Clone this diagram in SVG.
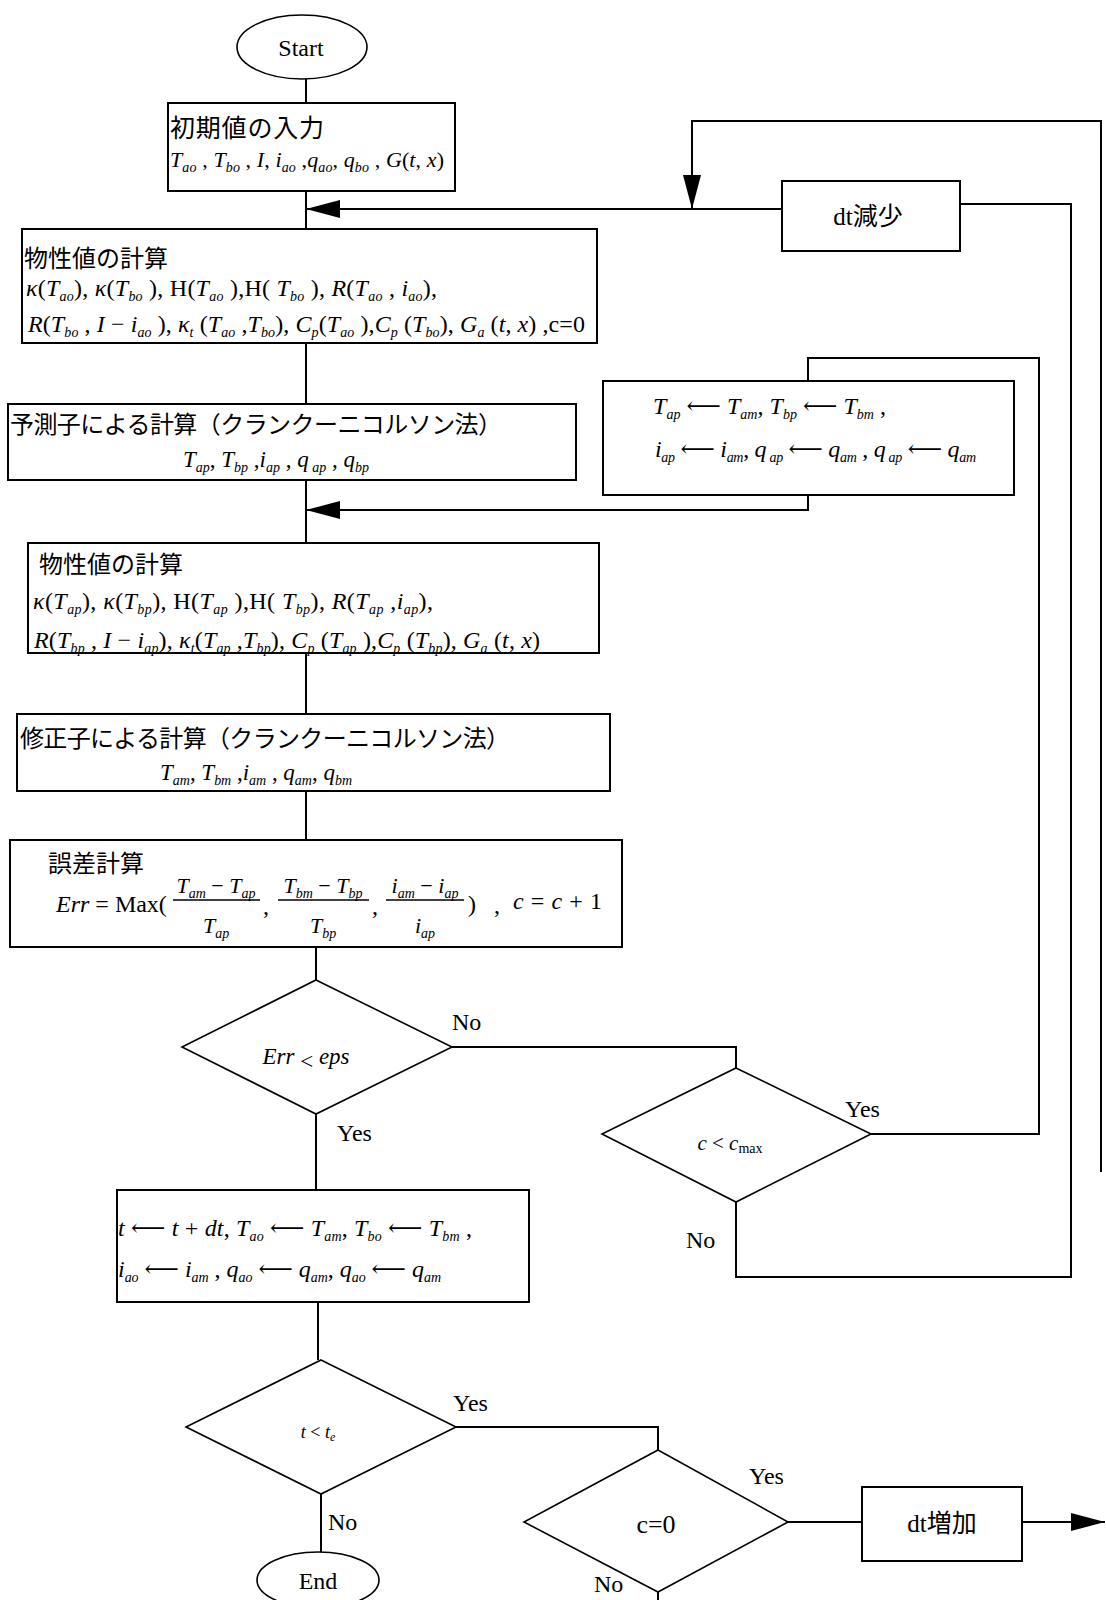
<svg xmlns="http://www.w3.org/2000/svg" width="1106" height="1600" viewBox="0 0 1106 1600">
<style>
.bg{fill:#fff}
.box{fill:#fff;stroke:#000;stroke-width:2}
.dia{fill:#fff;stroke:#000;stroke-width:1.6}
.ell{fill:#fff;stroke:#000;stroke-width:1.6}
.con{fill:none;stroke:#000;stroke-width:2}
.m{font-family:"Liberation Serif","DejaVu Serif",serif;font-size:24px;fill:#000}
.i{font-style:italic}
.s{font-size:14px;font-style:italic}
.su{font-size:14px}
.jp{font-family:"Noto Sans CJK JP","Noto Sans CJK SC",sans-serif;font-size:24px;fill:#000}
.lbl{font-family:"Liberation Serif","DejaVu Serif",serif;font-size:24px;fill:#000}
.mix{font-family:"Liberation Serif","Noto Sans CJK JP",serif;font-size:25px;fill:#000}
</style>
<defs>
<marker id="ah" markerUnits="userSpaceOnUse" markerWidth="34" markerHeight="18" refX="34" refY="9" orient="auto">
<path d="M0,0 L34,9 L0,18 z" fill="#000"/>
</marker>
</defs>
<rect class="bg" x="0" y="0" width="1106" height="1600"/>

<g id="connectors">
<path class="con" d="M306,79 V103"/>
<path class="con" d="M306,191 V229"/>
<path class="con" d="M782,209 H306" marker-end="url(#ah)"/>
<path class="con" d="M1101,1172 V121 H692 V209" marker-end="url(#ah)"/>
<path class="con" d="M306,343 V404"/>
<path class="con" d="M306,480 V543"/>
<path class="con" d="M808,495 V510 H306" marker-end="url(#ah)"/>
<path class="con" d="M306,653 V714"/>
<path class="con" d="M306,791 V840"/>
<path class="con" d="M316,947 V980"/>
<path class="con" d="M452,1047 H736 V1068"/>
<path class="con" d="M871,1134 H1039 V358 H808 V381"/>
<path class="con" d="M736,1202 V1277 H1071 V204 H960"/>
<path class="con" d="M316,1114 V1190"/>
<path class="con" d="M318,1302 V1360"/>
<path class="con" d="M321,1494 V1552"/>
<path class="con" d="M456,1427 H658 V1450"/>
<path class="con" d="M788,1522 H862"/>
<path class="con" d="M1022,1522 H1105" marker-end="url(#ah)"/>
<path class="con" d="M658,1592 V1600"/>
<text class="lbl" x="452" y="1030">No</text>
<text class="lbl" x="337" y="1141">Yes</text>
<text class="lbl" x="845" y="1117">Yes</text>
<text class="lbl" x="686" y="1248">No</text>
<text class="lbl" x="453" y="1411">Yes</text>
<text class="lbl" x="328" y="1530">No</text>
<text class="lbl" x="749" y="1484">Yes</text>
<text class="lbl" x="594" y="1592">No</text>
</g>

<g id="start">
<ellipse class="ell" cx="302" cy="47" rx="65" ry="32"/>
<text class="lbl" x="301" y="56" text-anchor="middle">Start</text>
</g>

<g id="input">
<rect class="box" x="168" y="103" width="287" height="88"/>
<text class="jp" x="170" y="137" style="font-size:25px" textLength="154">初期値の入力</text>
<text class="m" x="170" y="167" style="font-size:22px" textLength="274"><tspan class="i">T</tspan><tspan class="s" dy="5">ao</tspan><tspan dy="-5"> , </tspan><tspan class="i">T</tspan><tspan class="s" dy="5">bo</tspan><tspan dy="-5"> , </tspan><tspan class="i">I</tspan><tspan>, </tspan><tspan class="i">i</tspan><tspan class="s" dy="5">ao</tspan><tspan dy="-5"> ,</tspan><tspan class="i">q</tspan><tspan class="s" dy="5">ao</tspan><tspan dy="-5">, </tspan><tspan class="i">q</tspan><tspan class="s" dy="5">bo</tspan><tspan dy="-5"> , </tspan><tspan class="i">G</tspan><tspan>(</tspan><tspan class="i">t</tspan><tspan>, </tspan><tspan class="i">x</tspan><tspan>)</tspan></text>
</g>

<g id="dt-decrease">
<rect class="box" x="782" y="181" width="178" height="70"/>
<text class="mix" x="868" y="225" text-anchor="middle">dt減少</text>
</g>

<g id="props1">
<rect class="box" x="22" y="229" width="575" height="114"/>
<text class="jp" x="24" y="267">物性値の計算</text>
<text class="m" x="26" y="296" textLength="411"><tspan class="i">κ</tspan><tspan>(</tspan><tspan class="i">T</tspan><tspan class="s" dy="5">ao</tspan><tspan dy="-5">), </tspan><tspan class="i">κ</tspan><tspan>(</tspan><tspan class="i">T</tspan><tspan class="s" dy="5">bo</tspan><tspan dy="-5"> ), H(</tspan><tspan class="i">T</tspan><tspan class="s" dy="5">ao</tspan><tspan dy="-5"> ),H( </tspan><tspan class="i">T</tspan><tspan class="s" dy="5">bo</tspan><tspan dy="-5"> ), </tspan><tspan class="i">R</tspan><tspan>(</tspan><tspan class="i">T</tspan><tspan class="s" dy="5">ao</tspan><tspan dy="-5"> , </tspan><tspan class="i">i</tspan><tspan class="s" dy="5">ao</tspan><tspan dy="-5">),</tspan></text>
<text class="m" x="28" y="332" textLength="557"><tspan class="i">R</tspan><tspan>(</tspan><tspan class="i">T</tspan><tspan class="s" dy="5">bo</tspan><tspan dy="-5"> , </tspan><tspan class="i">I</tspan><tspan> − </tspan><tspan class="i">i</tspan><tspan class="s" dy="5">ao</tspan><tspan dy="-5"> ), </tspan><tspan class="i">κ</tspan><tspan class="s" dy="5">t</tspan><tspan dy="-5"> (</tspan><tspan class="i">T</tspan><tspan class="s" dy="5">ao</tspan><tspan dy="-5"> ,</tspan><tspan class="i">T</tspan><tspan class="s" dy="5">bo</tspan><tspan dy="-5">), </tspan><tspan class="i">C</tspan><tspan class="s" dy="5">p</tspan><tspan dy="-5">(</tspan><tspan class="i">T</tspan><tspan class="s" dy="5">ao</tspan><tspan dy="-5"> ),</tspan><tspan class="i">C</tspan><tspan class="s" dy="5">p</tspan><tspan dy="-5"> (</tspan><tspan class="i">T</tspan><tspan class="s" dy="5">bo</tspan><tspan dy="-5">), </tspan><tspan class="i">G</tspan><tspan class="s" dy="5">a</tspan><tspan dy="-5"> (</tspan><tspan class="i">t</tspan><tspan>, </tspan><tspan class="i">x</tspan><tspan>)  ,c=0</tspan></text>
</g>

<g id="predictor">
<rect class="box" x="8" y="404" width="568" height="76"/>
<text class="jp" x="10" y="433" textLength="492">予測子による計算（クランクーニコルソン法）</text>
<text class="m" x="276" y="467" text-anchor="middle" style="font-size:23px"><tspan class="i">T</tspan><tspan class="s" dy="5">ap</tspan><tspan dy="-5">, </tspan><tspan class="i">T</tspan><tspan class="s" dy="5">bp</tspan><tspan dy="-5"> ,</tspan><tspan class="i">i</tspan><tspan class="s" dy="5">ap</tspan><tspan dy="-5"> , </tspan><tspan class="i">q</tspan><tspan class="s" dy="5"> ap</tspan><tspan dy="-5"> , </tspan><tspan class="i">q</tspan><tspan class="s" dy="5">bp</tspan></text>
</g>

<g id="update-p">
<rect class="box" x="603" y="381" width="411" height="114"/>
<text class="m" x="653" y="414" textLength="233"><tspan class="i">T</tspan><tspan class="s" dy="5">ap</tspan><tspan dy="-5"> ⟵ </tspan><tspan class="i">T</tspan><tspan class="s" dy="5">am</tspan><tspan dy="-5">,  </tspan><tspan class="i">T</tspan><tspan class="s" dy="5">bp</tspan><tspan dy="-5"> ⟵ </tspan><tspan class="i">T</tspan><tspan class="s" dy="5">bm</tspan><tspan dy="-5"> ,</tspan></text>
<text class="m" x="655" y="457" textLength="321"><tspan class="i">i</tspan><tspan class="s" dy="5">ap</tspan><tspan dy="-5"> ⟵ </tspan><tspan class="i">i</tspan><tspan class="s" dy="5">am</tspan><tspan dy="-5">,  </tspan><tspan class="i">q</tspan><tspan class="s" dy="5"> ap</tspan><tspan dy="-5"> ⟵ </tspan><tspan class="i">q</tspan><tspan class="s" dy="5">am</tspan><tspan dy="-5"> ,  </tspan><tspan class="i">q</tspan><tspan class="s" dy="5"> ap</tspan><tspan dy="-5"> ⟵ </tspan><tspan class="i">q</tspan><tspan class="s" dy="5">am</tspan></text>
</g>

<g id="props2">
<rect class="box" x="28" y="543" width="571" height="110"/>
<text class="jp" x="39" y="573">物性値の計算</text>
<text class="m" x="33" y="609" textLength="400"><tspan class="i">κ</tspan><tspan>(</tspan><tspan class="i">T</tspan><tspan class="s" dy="5">ap</tspan><tspan dy="-5">), </tspan><tspan class="i">κ</tspan><tspan>(</tspan><tspan class="i">T</tspan><tspan class="s" dy="5">bp</tspan><tspan dy="-5">), H(</tspan><tspan class="i">T</tspan><tspan class="s" dy="5">ap</tspan><tspan dy="-5"> ),H( </tspan><tspan class="i">T</tspan><tspan class="s" dy="5">bp</tspan><tspan dy="-5">), </tspan><tspan class="i">R</tspan><tspan>(</tspan><tspan class="i">T</tspan><tspan class="s" dy="5">ap</tspan><tspan dy="-5"> ,</tspan><tspan class="i">i</tspan><tspan class="s" dy="5">ap</tspan><tspan dy="-5">),</tspan></text>
<text class="m" x="34" y="648" textLength="506"><tspan class="i">R</tspan><tspan>(</tspan><tspan class="i">T</tspan><tspan class="s" dy="5">bp</tspan><tspan dy="-5"> , </tspan><tspan class="i">I</tspan><tspan> − </tspan><tspan class="i">i</tspan><tspan class="s" dy="5">ap</tspan><tspan dy="-5">), </tspan><tspan class="i">κ</tspan><tspan class="s" dy="5">t</tspan><tspan dy="-5">(</tspan><tspan class="i">T</tspan><tspan class="s" dy="5">ap</tspan><tspan dy="-5"> ,</tspan><tspan class="i">T</tspan><tspan class="s" dy="5">bp</tspan><tspan dy="-5">), </tspan><tspan class="i">C</tspan><tspan class="s" dy="5">p</tspan><tspan dy="-5"> (</tspan><tspan class="i">T</tspan><tspan class="s" dy="5">ap</tspan><tspan dy="-5"> ),</tspan><tspan class="i">C</tspan><tspan class="s" dy="5">p</tspan><tspan dy="-5"> (</tspan><tspan class="i">T</tspan><tspan class="s" dy="5">bp</tspan><tspan dy="-5">), </tspan><tspan class="i">G</tspan><tspan class="s" dy="5">a</tspan><tspan dy="-5"> (</tspan><tspan class="i">t</tspan><tspan>, </tspan><tspan class="i">x</tspan><tspan>)</tspan></text>
</g>

<g id="corrector">
<rect class="box" x="17" y="714" width="593" height="77"/>
<text class="jp" x="20" y="747" textLength="490">修正子による計算（クランクーニコルソン法）</text>
<text class="m" x="160" y="780" style="font-size:23px" textLength="192"><tspan class="i">T</tspan><tspan class="s" dy="5">am</tspan><tspan dy="-5">, </tspan><tspan class="i">T</tspan><tspan class="s" dy="5">bm</tspan><tspan dy="-5"> ,</tspan><tspan class="i">i</tspan><tspan class="s" dy="5">am</tspan><tspan dy="-5"> , </tspan><tspan class="i">q</tspan><tspan class="s" dy="5">am</tspan><tspan dy="-5">, </tspan><tspan class="i">q</tspan><tspan class="s" dy="5">bm</tspan></text>
</g>

<g id="error">
<rect class="box" x="10" y="840" width="612" height="107"/>
<text class="jp" x="48" y="872">誤差計算</text>
<text class="m" x="56" y="912"><tspan class="i">Err</tspan><tspan> = Max(</tspan></text>
<text class="m" x="216" y="893" text-anchor="middle" style="font-size:22px"><tspan class="i">T</tspan><tspan class="s" dy="5">am</tspan><tspan dy="-5"> − </tspan><tspan class="i">T</tspan><tspan class="s" dy="5">ap</tspan></text>
<line x1="173" y1="900" x2="260" y2="900" stroke="#000" stroke-width="1.4"/>
<text class="m" x="216" y="933" text-anchor="middle" style="font-size:22px"><tspan class="i">T</tspan><tspan class="s" dy="5">ap</tspan></text>
<text class="m" x="263" y="914">,</text>
<text class="m" x="323" y="893" text-anchor="middle" style="font-size:22px"><tspan class="i">T</tspan><tspan class="s" dy="5">bm</tspan><tspan dy="-5"> − </tspan><tspan class="i">T</tspan><tspan class="s" dy="5">bp</tspan></text>
<line x1="278" y1="900" x2="369" y2="900" stroke="#000" stroke-width="1.4"/>
<text class="m" x="323" y="933" text-anchor="middle" style="font-size:22px"><tspan class="i">T</tspan><tspan class="s" dy="5">bp</tspan></text>
<text class="m" x="372" y="914">,</text>
<text class="m" x="425" y="893" text-anchor="middle" style="font-size:22px"><tspan class="i">i</tspan><tspan class="s" dy="5">am</tspan><tspan dy="-5"> − </tspan><tspan class="i">i</tspan><tspan class="s" dy="5">ap</tspan></text>
<line x1="386" y1="900" x2="464" y2="900" stroke="#000" stroke-width="1.4"/>
<text class="m" x="425" y="933" text-anchor="middle" style="font-size:22px"><tspan class="i">i</tspan><tspan class="s" dy="5">ap</tspan></text>
<text class="m" x="468" y="912">)</text>
<text class="m" x="494" y="913">,</text>
<text class="m" x="513" y="909" textLength="89"><tspan class="i">c</tspan><tspan> = </tspan><tspan class="i">c</tspan><tspan> + 1</tspan></text>
</g>

<g id="check-err">
<polygon class="dia" points="316,980 452,1047 316,1114 182,1047"/>
<text class="m" x="306" y="1064" text-anchor="middle" style="font-size:23px"><tspan class="i">Err</tspan><tspan dy="5"> &lt; </tspan><tspan class="i" dy="-5">eps</tspan></text>
</g>

<g id="check-c">
<polygon class="dia" points="736,1068 871,1134 736,1202 602,1134"/>
<text class="m" x="730" y="1150" text-anchor="middle" style="font-size:21px"><tspan class="i">c</tspan><tspan> &lt; </tspan><tspan class="i">c</tspan><tspan class="su" dy="3">max</tspan></text>
</g>

<g id="advance">
<rect class="box" x="117" y="1190" width="412" height="112"/>
<text class="m" x="118" y="1236" textLength="354"><tspan class="i">t</tspan><tspan> ⟵ </tspan><tspan class="i">t</tspan><tspan> + </tspan><tspan class="i">dt</tspan><tspan>,  </tspan><tspan class="i">T</tspan><tspan class="s" dy="5">ao</tspan><tspan dy="-5"> ⟵ </tspan><tspan class="i">T</tspan><tspan class="s" dy="5">am</tspan><tspan dy="-5">,  </tspan><tspan class="i">T</tspan><tspan class="s" dy="5">bo</tspan><tspan dy="-5"> ⟵ </tspan><tspan class="i">T</tspan><tspan class="s" dy="5">bm</tspan><tspan dy="-5"> ,</tspan></text>
<text class="m" x="118" y="1277" textLength="323"><tspan class="i">i</tspan><tspan class="s" dy="5">ao</tspan><tspan dy="-5"> ⟵ </tspan><tspan class="i">i</tspan><tspan class="s" dy="5">am</tspan><tspan dy="-5"> ,  </tspan><tspan class="i">q</tspan><tspan class="s" dy="5">ao</tspan><tspan dy="-5"> ⟵ </tspan><tspan class="i">q</tspan><tspan class="s" dy="5">am</tspan><tspan dy="-5">,  </tspan><tspan class="i">q</tspan><tspan class="s" dy="5">ao</tspan><tspan dy="-5"> ⟵ </tspan><tspan class="i">q</tspan><tspan class="s" dy="5">am</tspan></text>
</g>

<g id="check-t">
<polygon class="dia" points="321,1360 456,1427 321,1494 186,1427"/>
<text class="m" x="318" y="1438" text-anchor="middle" style="font-size:18px"><tspan class="i">t</tspan><tspan> &lt; </tspan><tspan class="i">t</tspan><tspan class="s" dy="3" style="font-size:12px">e</tspan></text>
</g>

<g id="end">
<ellipse class="ell" cx="318" cy="1580" rx="61" ry="28"/>
<text class="lbl" x="318" y="1589" text-anchor="middle">End</text>
</g>

<g id="check-c0">
<polygon class="dia" points="658,1450 788,1522 658,1592 524,1522"/>
<text class="lbl" x="656" y="1533" text-anchor="middle" style="font-size:26px">c=0</text>
</g>

<g id="dt-increase">
<rect class="box" x="862" y="1487" width="160" height="74"/>
<text class="mix" x="942" y="1532" text-anchor="middle">dt増加</text>
</g>
</svg>
